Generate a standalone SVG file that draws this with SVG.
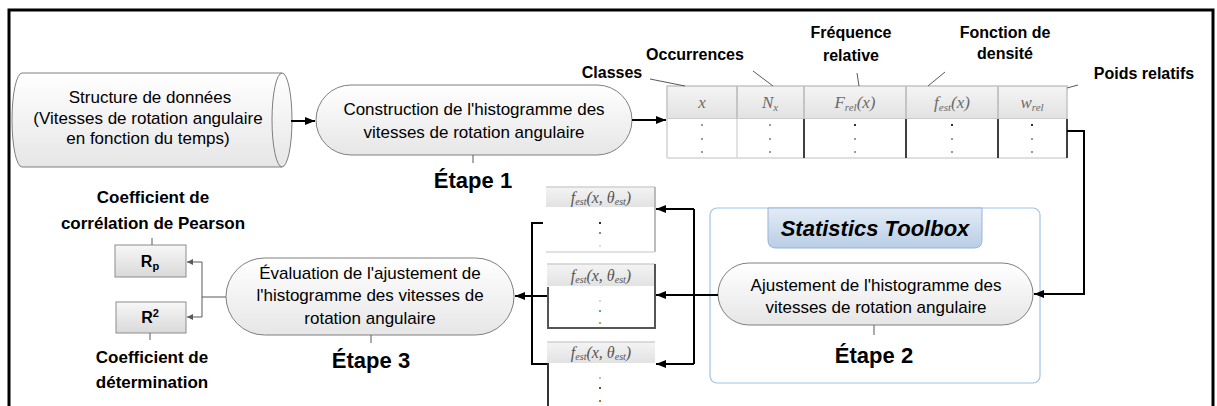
<svg xmlns="http://www.w3.org/2000/svg" width="1217" height="406" viewBox="0 0 1217 406">
<defs>
<linearGradient id="gNode" x1="0" y1="0" x2="0" y2="1"><stop offset="0" stop-color="#ffffff"/><stop offset="1" stop-color="#e6e6e6"/></linearGradient>
<linearGradient id="gBox" x1="0" y1="0" x2="0" y2="1"><stop offset="0" stop-color="#f7f7f7"/><stop offset="1" stop-color="#d9d9d9"/></linearGradient>
<linearGradient id="gTab" x1="0" y1="0" x2="0" y2="1"><stop offset="0" stop-color="#e3ecf6"/><stop offset="1" stop-color="#b9cde5"/></linearGradient>
<linearGradient id="gHead" x1="0" y1="0" x2="0" y2="1"><stop offset="0" stop-color="#f4f4f4"/><stop offset="1" stop-color="#e2e2e2"/></linearGradient>
<marker id="ah" viewBox="0 0 10 8" refX="10" refY="4" markerWidth="10" markerHeight="8" markerUnits="userSpaceOnUse" orient="auto"><path d="M0,0 L10,4 L0,8 Z" fill="#000"/></marker>
<marker id="ahs" viewBox="0 0 6 6" refX="6" refY="3" markerWidth="6" markerHeight="6" markerUnits="userSpaceOnUse" orient="auto"><path d="M0,0 L6,3 L0,6 Z" fill="#595959"/></marker>
</defs>
<style>
.node{fill:url(#gNode);stroke:#7f7f7f;stroke-width:1}
.box{fill:url(#gBox);stroke:#8c8c8c;stroke-width:1}
.t{font-family:"Liberation Sans",Arial,sans-serif;font-size:17px;fill:#000;text-anchor:middle}
.lb{font-family:"Liberation Sans",Arial,sans-serif;font-size:16px;font-weight:bold;fill:#000;text-anchor:middle}
.lc{font-family:"Liberation Sans",Arial,sans-serif;font-size:17px;font-weight:bold;fill:#000;text-anchor:middle}
.et{font-family:"Liberation Sans",Arial,sans-serif;font-size:22px;font-weight:bold;fill:#000;text-anchor:middle}
.mh{font-family:"Liberation Serif","Times New Roman",serif;font-size:17px;font-style:italic;fill:#6a6a6a;text-anchor:middle}
.ms{font-family:"Liberation Serif","Times New Roman",serif;font-size:16px;font-style:italic;fill:#555;text-anchor:middle}
.lead{stroke:#595959;stroke-width:1;fill:none}
.conn{stroke:#000;stroke-width:2;fill:none}
.thin{stroke:#595959;stroke-width:1;fill:none}
.dot{fill:#9a9a9a}
</style>
<rect x="0" y="0" width="1217" height="406" fill="#fff"/>
<path d="M9,406 L9,10 L1213,10 L1213,406" fill="none" stroke="#000" stroke-width="3"/>

<g id="donnees">
<path class="node" d="M22,73 L282,73 A10,47 0 0 1 282,167 L22,167 A10,47 0 0 1 22,73 Z"/>
<path d="M282,73 A10,47 0 0 0 282,167" fill="none" stroke="#7f7f7f" stroke-width="1"/>
<text class="t" x="150" y="103">Structure de données</text>
<text class="t" x="148" y="123.5">(Vitesses de rotation angulaire</text>
<text class="t" x="148" y="144">en fonction du temps)</text>
</g>

<g id="etape1">
<rect class="node" x="316" y="85" width="316" height="70" rx="35"/>
<text class="t" x="474" y="115">Construction de l'histogramme des</text>
<text class="t" x="474" y="138">vitesses de rotation angulaire</text>
<line class="thin" x1="473" y1="155" x2="473" y2="163"/>
<text class="et" x="473" y="188">Étape 1</text>
</g>

<g id="table">
<rect x="667" y="86" width="400" height="33" fill="url(#gHead)" stroke="#c4c4c4" stroke-width="1.5"/>
<rect x="667" y="119" width="400" height="39" fill="#fff"/>
<line x1="667" y1="119" x2="667" y2="158" stroke="#d0d0d0" stroke-width="1.5"/>
<line x1="667" y1="158" x2="1067" y2="158" stroke="#d4d4d4" stroke-width="1.5"/>
<g stroke="#c4c4c4" stroke-width="2">
<line x1="737" y1="86" x2="737" y2="119"/><line x1="804" y1="86" x2="804" y2="119"/><line x1="906" y1="86" x2="906" y2="119"/><line x1="998" y1="86" x2="998" y2="119"/>
</g>
<line x1="737" y1="119" x2="737" y2="158" stroke="#d8d8d8" stroke-width="1.5"/>
<g stroke="#404040" stroke-width="2">
<line x1="804" y1="119" x2="804" y2="158"/><line x1="906" y1="119" x2="906" y2="158"/><line x1="998" y1="119" x2="998" y2="158"/><line x1="1067" y1="119" x2="1067" y2="158"/>
</g>
<text class="mh" x="702" y="108">x</text>
<text class="mh" x="770" y="108">N<tspan font-size="11" dy="3">x</tspan></text>
<text class="mh" x="855" y="108">F<tspan font-size="11" dy="3">rel</tspan><tspan dy="-3">(x)</tspan></text>
<text class="mh" x="952" y="108">f<tspan font-size="11" dy="3">est</tspan><tspan dy="-3">(x)</tspan></text>
<text class="mh" x="1032" y="108">w<tspan font-size="11" dy="3">rel</tspan></text>
<g class="dot">
<rect x="701" y="124" width="2" height="2"/><rect x="701" y="138" width="2" height="2"/><rect x="701" y="151" width="2" height="2"/>
<rect x="769" y="124" width="2" height="2"/><rect x="769" y="138" width="2" height="2"/><rect x="769" y="151" width="2" height="2"/>
<rect x="854" y="124" width="2" height="2" fill="#333"/><rect x="854" y="138" width="2" height="2"/><rect x="854" y="151" width="2" height="2"/>
<rect x="951" y="124" width="2" height="2" fill="#333"/><rect x="951" y="138" width="2" height="2"/><rect x="951" y="151" width="2" height="2"/>
<rect x="1031" y="124" width="2" height="2" fill="#333"/><rect x="1031" y="138" width="2" height="2"/><rect x="1031" y="151" width="2" height="2"/>
</g>
<line class="lead" x1="650" y1="79" x2="685" y2="86"/>
<text class="lb" x="612" y="78">Classes</text>
<line class="lead" x1="753" y1="71" x2="773" y2="86"/>
<text class="lb" x="695" y="60">Occurrences</text>
<line class="lead" x1="857" y1="73" x2="859" y2="86"/>
<text class="lb" x="851" y="38">Fréquence</text>
<text class="lb" x="851" y="61">relative</text>
<line class="lead" x1="945" y1="72" x2="928" y2="86"/>
<text class="lb" x="1005" y="38">Fonction de</text>
<text class="lb" x="1005" y="59">densité</text>
<line class="lead" x1="1067" y1="88" x2="1078" y2="85"/>
<text class="lb" x="1144" y="79">Poids relatifs</text>
</g>

<g id="toolbox">
<rect x="710" y="208" width="330" height="175" rx="7" fill="#fff" stroke="#9dc3e6" stroke-width="1.2"/>
<path d="M768,208 L982,208 L982,240 Q982,248 974,248 L776,248 Q768,248 768,240 Z" fill="url(#gTab)" stroke="#95b3d7" stroke-width="1"/>
<text x="875" y="236" font-family="Liberation Sans, Arial, sans-serif" font-size="22" font-weight="bold" font-style="italic" text-anchor="middle" fill="#000">Statistics Toolbox</text>
</g>

<g id="etape2">
<rect class="node" x="718" y="263" width="315" height="62" rx="31"/>
<text class="t" x="876" y="291">Ajustement de l'histogramme des</text>
<text class="t" x="876" y="313">vitesses de rotation angulaire</text>
<line class="thin" x1="874" y1="325" x2="874" y2="335"/>
<text class="et" x="874" y="363">Étape 2</text>
</g>

<g id="ajust1">
<rect x="546" y="187" width="109" height="20" fill="url(#gHead)"/>
<line x1="546" y1="187" x2="655" y2="187" stroke="#d0d0d0" stroke-width="1.5"/>
<line x1="655" y1="187" x2="655" y2="252" stroke="#a6a6a6" stroke-width="1.5"/>
<line x1="546" y1="252" x2="655" y2="252" stroke="#d9d9d9" stroke-width="1.5"/>
<text class="ms" x="601" y="203">f<tspan font-size="10" dy="2">est</tspan><tspan dy="-2">(x, θ</tspan><tspan font-size="10" dy="2">est</tspan><tspan dy="-2">)</tspan></text>
<rect x="599" y="222" width="2" height="2" fill="#1a2a5a"/><rect x="599" y="232" width="2" height="2" fill="#888"/><rect x="599" y="245" width="2" height="2" fill="#ddd"/>
</g>

<g id="ajust2">
<rect x="547" y="264" width="108" height="22" fill="url(#gHead)"/>
<line x1="547" y1="264" x2="655" y2="264" stroke="#d0d0d0" stroke-width="1.5"/>
<path d="M548,287 L548,328 L655,328 L655,264" fill="none" stroke="#555" stroke-width="2"/>
<text class="ms" x="601" y="281">f<tspan font-size="10" dy="2">est</tspan><tspan dy="-2">(x, θ</tspan><tspan font-size="10" dy="2">est</tspan><tspan dy="-2">)</tspan></text>
<rect x="599" y="300" width="2" height="2" fill="#e8d4a8"/><rect x="599" y="310" width="2" height="2" fill="#5b9bd5"/><rect x="599" y="322" width="2" height="2" fill="#d4a050"/>
</g>

<g id="ajust3">
<rect x="547" y="342" width="108" height="21" fill="url(#gHead)"/>
<line x1="547" y1="342" x2="655" y2="342" stroke="#d0d0d0" stroke-width="1.5"/>
<line x1="548" y1="363" x2="548" y2="406" stroke="#333" stroke-width="2"/>
<text class="ms" x="601" y="358">f<tspan font-size="10" dy="2">est</tspan><tspan dy="-2">(x, θ</tspan><tspan font-size="10" dy="2">est</tspan><tspan dy="-2">)</tspan></text>
<rect x="599" y="377" width="2" height="2" fill="#c8b8b0"/><rect x="599" y="387" width="2" height="2" fill="#8b4513"/><rect x="599" y="400" width="2" height="2" fill="#c07030"/>
</g>

<g id="etape3">
<rect class="node" x="226" y="258" width="288" height="77" rx="38.5"/>
<text class="t" x="370" y="279">Évaluation de l'ajustement de</text>
<text class="t" x="370" y="301">l'histogramme des vitesses de</text>
<text class="t" x="370" y="324">rotation angulaire</text>
<line class="thin" x1="371" y1="335" x2="371" y2="343"/>
<text class="et" x="371" y="368">Étape 3</text>
</g>

<g id="rp">
<rect class="box" x="115" y="245" width="71" height="32"/>
<text x="150" y="267" font-family="Liberation Sans, Arial, sans-serif" font-size="16" font-weight="bold" text-anchor="middle">R<tspan font-size="11" dy="3">p</tspan></text>
<line class="thin" x1="152" y1="238" x2="152" y2="245"/>
<text class="lc" x="153" y="203">Coefficient de</text>
<text class="lc" x="153" y="229">corrélation de Pearson</text>
</g>

<g id="r2">
<rect class="box" x="116" y="302" width="70" height="31"/>
<text x="150" y="323" font-family="Liberation Sans, Arial, sans-serif" font-size="16" font-weight="bold" text-anchor="middle">R<tspan font-size="11" dy="-6">2</tspan></text>
<line class="thin" x1="150" y1="333" x2="150" y2="340"/>
<text class="lc" x="152" y="363">Coefficient de</text>
<text class="lc" x="152" y="388">détermination</text>
</g>

<g id="connectors">
<line class="conn" x1="291" y1="121" x2="315" y2="121" marker-end="url(#ah)"/>
<line class="conn" x1="632" y1="120" x2="666" y2="120" marker-end="url(#ah)"/>
<path class="conn" d="M1067,131 L1084,131 L1084,294 L1034,294" marker-end="url(#ah)"/>
<line class="conn" x1="718" y1="295" x2="656" y2="295" marker-end="url(#ah)"/>
<line class="conn" x1="694" y1="209" x2="694" y2="364"/>
<line class="conn" x1="694" y1="209" x2="656" y2="209" marker-end="url(#ah)"/>
<line class="conn" x1="694" y1="364" x2="656" y2="364" marker-end="url(#ah)"/>
<path class="conn" d="M543,223 L532,223 L532,364 L547,364"/>
<line class="conn" x1="547" y1="296" x2="515" y2="296" marker-end="url(#ah)"/>
<line class="thin" x1="226" y1="297" x2="202" y2="297"/>
<path class="thin" d="M202,297 L202,262 L187,262" marker-end="url(#ahs)"/>
<path class="thin" d="M202,297 L202,317 L187,317" marker-end="url(#ahs)"/>
</g>
</svg>
